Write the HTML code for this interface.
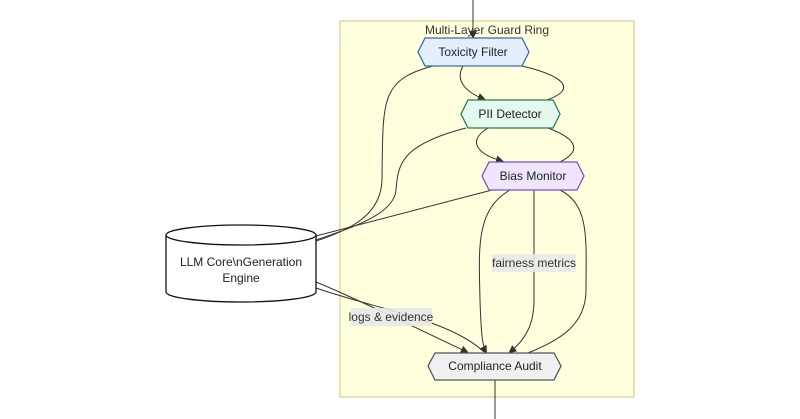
<!DOCTYPE html>
<html><head><style>
body{margin:0;background:#fff;}
svg{display:block;font-family:"Liberation Sans",sans-serif;}
</style></head><body>
<svg width="800" height="419" viewBox="0 0 800 419" xmlns="http://www.w3.org/2000/svg">
<defs><marker id="a" markerWidth="8" markerHeight="8" refX="6" refY="4" orient="auto" markerUnits="userSpaceOnUse"><path d="M0,0 L8,4 L0,8 z" fill="#333"/></marker></defs>
<rect x="340" y="21" width="294" height="376" fill="#ffffde" stroke="#c8c878" stroke-width="1"/>
<text x="487" y="34" font-size="12" text-anchor="middle" fill="#333">Multi-Layer Guard Ring</text>
<g fill="none" stroke="#333" stroke-width="1">
<path d="M473,0 L473,37" marker-end="url(#a)"/>
<path d="M463,66 C455,80 465,92 484,99" marker-end="url(#a)"/>
<path d="M522,66 C560,75 580,88 547,100"/>
<path d="M433,66 C380,80 383,100 382,180 C381,215 350,230 316,241"/>
<path d="M466,128 C400,145 398,165 396,190 C394,215 350,228 316,240"/>
<path d="M488,128 C465,142 480,155 502,161" marker-end="url(#a)"/>
<path d="M548,128 C580,140 580,152 560,162"/>
<path d="M492,190 L316,236"/>
<path d="M510,190 C475,210 479,250 480,300 C481,330 482,345 486,352" marker-end="url(#a)"/>
<path d="M534,190 L534,300 C534,325 525,340 510,352" marker-end="url(#a)"/>
<path d="M560,190 C590,205 586,240 586,290 C586,325 560,340 528,353"/>
<path d="M316,282 C360,300 420,330 467,352" marker-end="url(#a)"/>
<path d="M316,288 C380,310 450,320 484,352"/>
<path d="M495,380 L495,419"/>
</g>
<rect x="492" y="254" width="84" height="18" fill="#e8e8e8" opacity="0.9"/>
<text x="534" y="267" font-size="12" text-anchor="middle" fill="#333">fairness metrics</text>
<rect x="351" y="308" width="81" height="18" fill="#e8e8e8" opacity="0.9"/>
<text x="391" y="321" font-size="12" text-anchor="middle" fill="#333">logs &amp; evidence</text>
<polygon points="425,38 522,38 529,52 522,66 425,66 418,52" fill="#e3effd" stroke="#3a6aa8" stroke-width="1.3"/>
<text x="473" y="56" font-size="12" text-anchor="middle" fill="#222">Toxicity Filter</text>
<polygon points="468,100 553,100 560,114 553,128 468,128 461,114" fill="#e3f8ee" stroke="#2e7a55" stroke-width="1.3"/>
<text x="510" y="118" font-size="12" text-anchor="middle" fill="#222">PII Detector</text>
<polygon points="489,162 577,162 584,176 577,190 489,190 482,176" fill="#efe6fd" stroke="#7a50c8" stroke-width="1.3"/>
<text x="533" y="180" font-size="12" text-anchor="middle" fill="#222">Bias Monitor</text>
<polygon points="435,353 554,353 561,366 554,380 435,380 428,366" fill="#f0f0f0" stroke="#555" stroke-width="1.3"/>
<text x="495" y="370" font-size="12" text-anchor="middle" fill="#222">Compliance Audit</text>
<path d="M166,235 L166,292 A75,10 0 0 0 316,292 L316,235 A75,10 0 0 0 166,235 A75,10 0 0 0 316,235" fill="#fff" stroke="#111" stroke-width="1.3"/>
<text x="241" y="266" font-size="12" text-anchor="middle" fill="#222">LLM Core\nGeneration</text>
<text x="241" y="282" font-size="12" text-anchor="middle" fill="#222">Engine</text>
</svg>
</body></html>
